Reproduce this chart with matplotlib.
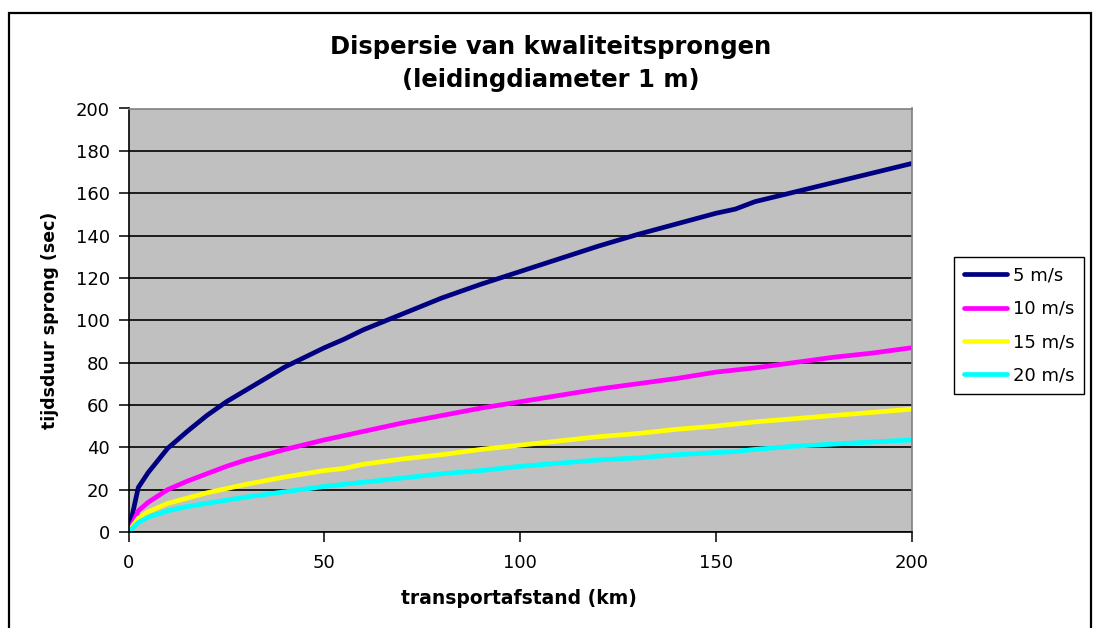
import matplotlib
matplotlib.use("Agg")
import matplotlib.pyplot as plt
from matplotlib.patches import Rectangle

plt.rcParams.update({
    "font.family": ["DejaVu Sans"],
    "font.size": 13,
})

# ── Data ────────────────────────────────────────────────────────
afstand = [0, 2.5, 5, 10, 15, 20, 25, 30, 40, 50, 55, 60, 70, 80, 90, 100,
           110, 120, 130, 140, 150, 155, 160, 170, 180, 190, 200]

v5 = [0, 21, 28, 39.5, 47.5, 55, 61.5, 67, 78, 87, 91, 95.5, 103, 110.5, 117,
      123, 129, 135, 140.5, 145.5, 150.5, 152.5, 156, 160.5, 165, 169.5, 174]
v10 = [0, 10, 14, 20, 24, 27.5, 31, 34, 39, 43.5, 45.5, 47.5, 51.5, 55, 58.5,
       61.5, 64.5, 67.5, 70, 72.5, 75.5, 76.5, 77.5, 80, 82.5, 84.5, 87]
v15 = [0, 6.5, 9.5, 13.5, 16, 18.5, 20.5, 22.5, 26, 29, 30, 32, 34.5, 36.5, 39,
       41, 43, 45, 46.5, 48.5, 50, 51, 52, 53.5, 55, 56.5, 58]
v20 = [0, 4.5, 7, 10, 12, 13.5, 15, 16.5, 19, 21.5, 22.5, 23.5, 25.5, 27.5, 29,
       31, 32.5, 34, 35, 36.5, 37.5, 38, 39, 40.5, 41.5, 42.5, 43.5]

series = [
    ("5 m/s",  v5,  "#000080"),
    ("10 m/s", v10, "#FF00FF"),
    ("15 m/s", v15, "#FFFF00"),
    ("20 m/s", v20, "#00FFFF"),
]

W, H = 1093, 628
fig = plt.figure(figsize=(W / 100, H / 100), dpi=100)
fig.patch.set_facecolor("white")

# outer chart border (bottom edge runs off the image)
fig.patches.append(Rectangle((9 / W, -0.05), (1091 - 9) / W, 1.05 - 13 / H,
                             transform=fig.transFigure, fill=False,
                             edgecolor="black", lw=1.6))

ax = fig.add_axes([128.5 / W, 1 - 532 / H, (911.5 - 128.5) / W, (532 - 108.5) / H])
ax.set_facecolor("#C0C0C0")

for name, vals, col in series:
    ax.plot(afstand, vals, color=col, lw=3.4, label=name, solid_capstyle="round")

ax.set_xlim(0, 200)
ax.set_ylim(0, 200)
ax.set_xticks([0, 50, 100, 150, 200])
ax.set_yticks(range(0, 201, 20))
ax.yaxis.grid(True, color="black", lw=1.2)
ax.set_axisbelow(True)

for s in ("top", "right"):
    ax.spines[s].set_color("#808080")
    ax.spines[s].set_linewidth(1.2)
for s in ("left", "bottom"):
    ax.spines[s].set_color("black")
    ax.spines[s].set_linewidth(1.2)

ax.tick_params(axis="both", direction="out", length=7.5, width=1.1, labelsize=13)
ax.tick_params(axis="y", pad=6)
ax.tick_params(axis="x", pad=8)

# axis titles
fig.text(50 / W, 1 - 320 / H, "tijdsduur sprong (sec)", rotation=90,
         ha="center", va="center", fontsize=12.5, fontweight="bold")
fig.text(519 / W, 1 - 599 / H, "transportafstand (km)",
         ha="center", va="center", fontsize=13.5, fontweight="bold")

# chart title
fig.text(551 / W, 1 - 47 / H, "Dispersie van kwaliteitsprongen",
         ha="center", va="center", fontsize=17.5, fontweight="bold")
fig.text(551 / W, 1 - 80 / H, "(leidingdiameter 1 m)",
         ha="center", va="center", fontsize=17.5, fontweight="bold")

leg = fig.legend(loc="center", bbox_to_anchor=((952 + 1086) / 2 / W, 1 - (258 + 393) / 2 / H),
                 bbox_transform=fig.transFigure, fontsize=13, frameon=True,
                 fancybox=False, edgecolor="black", framealpha=1,
                 handlelength=2.4, handletextpad=0.3, labelspacing=0.85,
                 borderpad=0.55, borderaxespad=0)
leg.get_frame().set_linewidth(1.0)

fig.savefig("out.png", dpi=100, facecolor="white")
